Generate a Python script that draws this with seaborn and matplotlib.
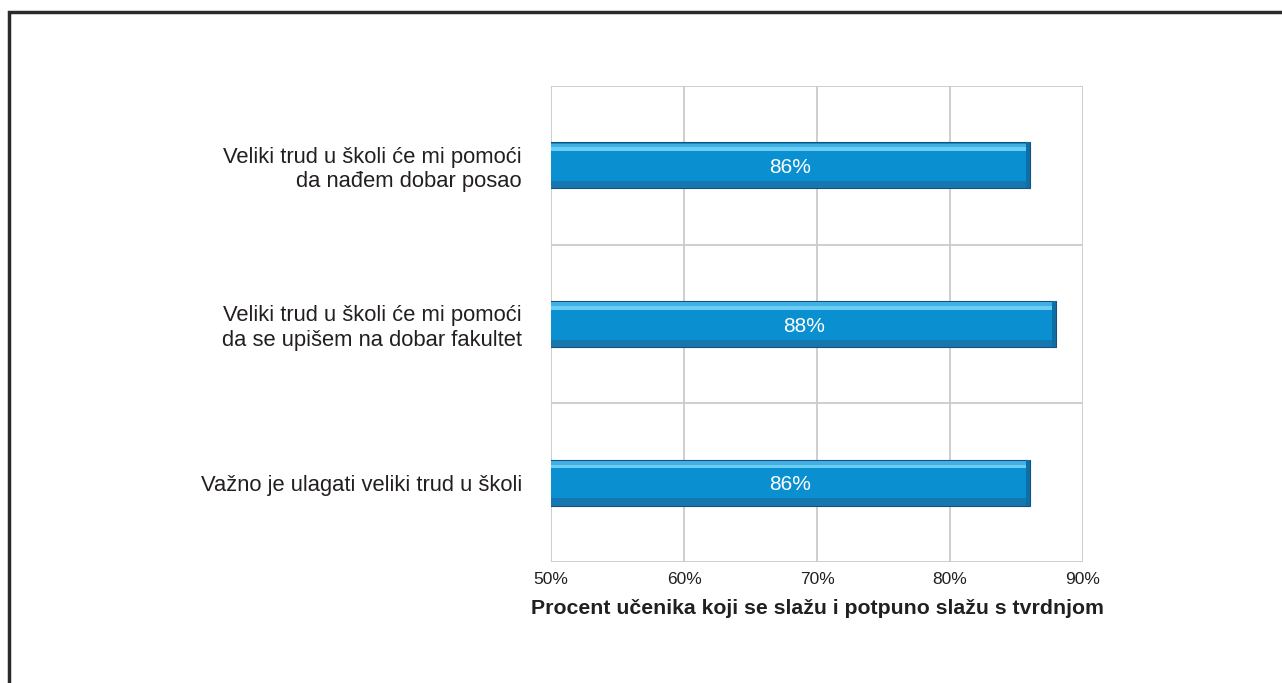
import matplotlib
matplotlib.use("Agg")
import matplotlib.pyplot as plt
import seaborn as sns
import pandas as pd
from matplotlib.patches import Rectangle
from matplotlib.ticker import FuncFormatter, MultipleLocator, FixedLocator

# podaci
tvrdnje = [
    "Veliki trud u školi će mi pomoći\nda nađem dobar posao",
    "Veliki trud u školi će mi pomoći\nda se upišem na dobar fakultet",
    "Važno je ulagati veliki trud u školi",
]
postotci = [86, 88, 86]
x_label = "Procent učenika koji se slažu i potpuno slažu s tvrdnjom"

df = pd.DataFrame({"tvrdnja": tvrdnje, "postotak": postotci})

sns.set_style("white")
plt.rcParams["font.family"] = ["Liberation Sans", "DejaVu Sans"]

fig = plt.figure(figsize=(12.82, 6.83), dpi=100)
ax = fig.add_axes([0.4298, 0.1772, 0.415, 0.697])

sns.barplot(data=df, x="postotak", y="tvrdnja", color="#0a90d0",
            width=0.29, ax=ax, edgecolor="#1a4f7a", linewidth=0.8,
            saturation=1, zorder=3)

# bevel efekt na stupcima
for p in ax.patches:
    x0, y0 = p.get_x(), p.get_y()
    w, h = p.get_width(), p.get_height()
    ax.add_patch(Rectangle((x0, y0 + h * 0.03), w, h * 0.08,
                           facecolor="#3fb0e6", edgecolor="none", zorder=4))
    ax.add_patch(Rectangle((x0, y0 + h * 0.11), w, h * 0.08,
                           facecolor="#6ccdf2", edgecolor="none", zorder=4))
    ax.add_patch(Rectangle((x0, y0 + h * 0.84), w, h * 0.16,
                           facecolor="#1676b0", edgecolor="none", zorder=4))
    ax.add_patch(Rectangle((x0 + w - 0.3, y0), 0.3, h,
                           facecolor="#0d6fa6", edgecolor="none", zorder=4))

for p, v in zip(ax.patches[:len(postotci)], postotci):
    ax.text(50 + (p.get_width() - 50) / 2, p.get_y() + p.get_height() * 0.55,
            f"{v}%", ha="center", va="center", color="white",
            fontsize=15, zorder=5)

ax.set_xlim(50, 90)
ax.set_ylim(2.5, -0.5)
ax.xaxis.set_major_locator(MultipleLocator(10))
ax.xaxis.set_major_formatter(FuncFormatter(lambda v, _: f"{v:.0f}%"))
ax.yaxis.set_minor_locator(FixedLocator([-0.5, 0.5, 1.5, 2.5]))
ax.grid(True, axis="x", which="major", color="#cacaca", linewidth=1.3, zorder=0)
ax.grid(True, axis="y", which="minor", color="#cacaca", linewidth=1.3, zorder=0)
ax.grid(False, axis="y", which="major")
for s in ax.spines.values():
    s.set_visible(False)

ax.tick_params(axis="x", length=0, labelsize=12.5, colors="#231f20", pad=7)
ax.tick_params(axis="y", length=0, labelsize=15.8, colors="#231f20", pad=21)
ax.set_ylabel("")
ax.set_xlabel(x_label, fontsize=15.3, fontweight="bold", color="#231f20", labelpad=9)
for t in ax.get_yticklabels():
    t.set_ha("right")
    t.set_multialignment("right")
    t.set_linespacing(1.2)

# okvir slike
fig.add_artist(Rectangle((9 / 1282, -0.1), 1.2, 1.1 - 12 / 683,
                         transform=fig.transFigure, fill=False,
                         edgecolor="#2a2a2a", linewidth=2.5))

fig.savefig("out.png", dpi=100)
